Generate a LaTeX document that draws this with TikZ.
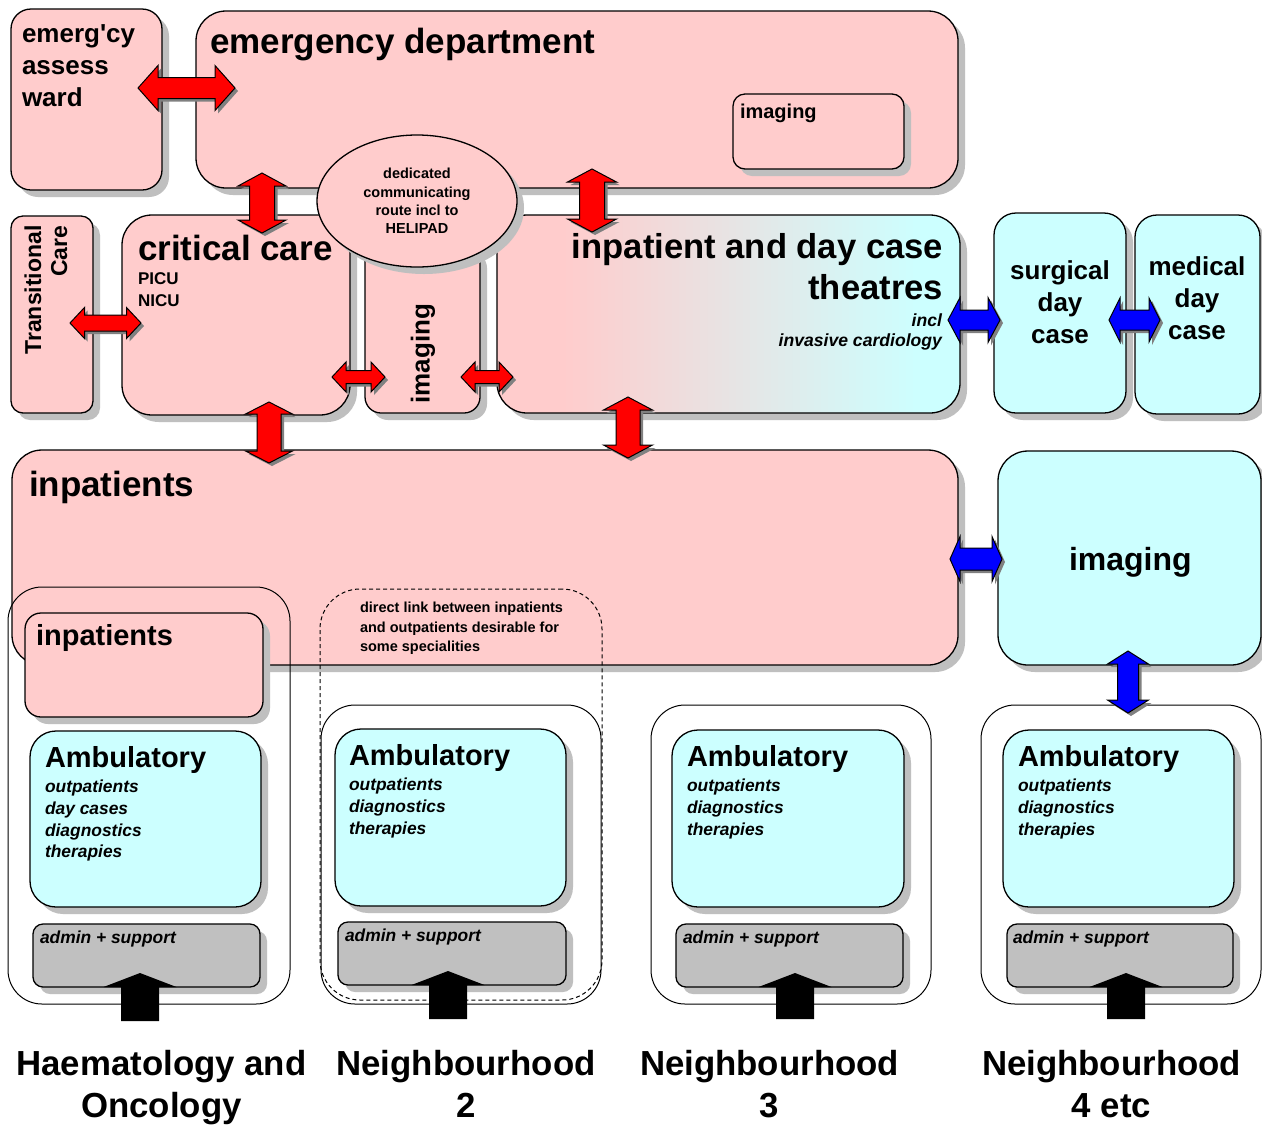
\documentclass[tikz,border=0pt]{standalone}
\usepackage{fontspec}
\setmainfont{Liberation Sans}
\usetikzlibrary{calc,shadows,shapes.geometric}

\definecolor{pinkfill}{RGB}{255,204,204}
\definecolor{cyanfill}{RGB}{204,255,255}
\definecolor{adminfill}{RGB}{192,192,192}
\definecolor{arrowred}{RGB}{255,0,0}
\definecolor{arrowblue}{RGB}{0,0,255}

% pink on the left fading through grey to cyan on the right
\pgfdeclarehorizontalshading{theatreshade}{100bp}{color(0bp)=(pinkfill); color(32bp)=(pinkfill); color(71bp)=(cyanfill); color(100bp)=(cyanfill)}

\newcommand\fsz[2]{\fontsize{#1}{#2}\selectfont}

% rounded area given by its corners (x1,y1) (x2,y2)
\newcommand\areanode[6][]{%
  \node[area,#1,minimum width={(#5-#3)*0.5pt},minimum height={(#6-#4)*0.5pt}] (#2) at ({(#3+#5)/2},{(#4+#6)/2}) {};}

% horizontal double block arrow: colour, left tip, right tip, head half-height, shaft half-height, head length
\newcommand\hdouble[6]{%
  \filldraw[blockarrow=#1] (#2) -- ($(#2)+(#6,-#4)$) -- ($(#2)+(#6,-#5)$) -- ($(#3)+(-#6,-#5)$) -- ($(#3)+(-#6,-#4)$) -- (#3)
    -- ($(#3)+(-#6,#4)$) -- ($(#3)+(-#6,#5)$) -- ($(#2)+(#6,#5)$) -- ($(#2)+(#6,#4)$) -- cycle;}

% vertical double block arrow: colour, top tip, bottom tip, head half-width, shaft half-width, head length
\newcommand\vdouble[6]{%
  \filldraw[blockarrow=#1] (#2) -- ($(#2)+(#4,#6)$) -- ($(#2)+(#5,#6)$) -- ($(#3)+(#5,-#6)$) -- ($(#3)+(#4,-#6)$) -- (#3)
    -- ($(#3)+(-#4,-#6)$) -- ($(#3)+(-#5,-#6)$) -- ($(#2)+(-#5,#6)$) -- ($(#2)+(-#4,#6)$) -- cycle;}

% single upward block arrow: foot, tip, head half-width, shaft half-width, head length
\newcommand\upblock[5]{%
  \fill[black] ($(#1)+(-#4,0)$) -- ($(#2)+(-#4,#5)$) -- ($(#2)+(-#3,#5)$) -- (#2) -- ($(#2)+(#3,#5)$) -- ($(#2)+(#4,#5)$) -- ($(#1)+(#4,0)$) -- cycle;}

\begin{document}
\begin{tikzpicture}[x=0.5pt,y=-0.5pt,
  area/.style={rectangle,draw=black,line width=0.65pt,inner sep=0pt,outer sep=0pt},
  shade box/.style={drop shadow={shadow xshift=3.5pt,shadow yshift=-3.5pt,opacity=1,fill=gray!50}},
  pinkbox/.style={area,fill=pinkfill,shade box},
  cyanbox/.style={area,fill=cyanfill,shade box},
  greybox/.style={area,fill=adminfill,shade box},
  frame/.style={area,line width=0.5pt},
  link frame/.style={frame,dash pattern=on 2pt off 1.5pt},
  blockarrow/.style={fill=#1,draw=black,line width=0.5pt,line join=miter,
    preaction={fill=gray,transform canvas={xshift=1.5pt,yshift=-1.5pt}}},
  lbl/.style={inner sep=0pt,outer sep=0pt},
  title/.style={lbl,anchor=base west,font={\fsz{#1}{#1}\bfseries}},
  sublist/.style={lbl,anchor=north west,align=left,font={\fsz{8.7}{10.85}\bfseries\itshape}},
  admintext/.style={lbl,anchor=base west,font={\fsz{8.7}{10}\bfseries\itshape}},
  placename/.style={lbl,anchor=north,align=center,font={\fsz{17.4}{21}\bfseries}}]

\useasboundingbox (0,0) rectangle (1262,1126);
\fill[white] (0,0) rectangle (1262,1126);

% emergency floor
\areanode[pinkbox,rounded corners=10pt]{ward}{11}{9}{162}{190}
\areanode[pinkbox,rounded corners=15pt]{ed}{196}{11}{958}{188}
\areanode[pinkbox,rounded corners=6pt]{edimg}{733}{94}{904}{169}

% critical care, imaging and theatres
\areanode[pinkbox,rounded corners=6pt]{trans}{11}{216}{93}{413}
\areanode[pinkbox,rounded corners=15pt]{crit}{122}{215}{350}{415}
\areanode[pinkbox,rounded corners=8pt]{imgmid}{365}{245}{480}{413}
\areanode[area,shade,shading=theatreshade,shade box,rounded corners=15pt]{theat}{497}{215}{960}{413}
\areanode[cyanbox,rounded corners=11pt]{surg}{994}{213}{1126}{413}
\areanode[cyanbox,rounded corners=11pt]{med}{1135}{215}{1260}{414}
\node[ellipse,draw=black,line width=0.65pt,fill=pinkfill,shade box,inner sep=0pt,
      minimum width=100pt,minimum height=66pt,align=center,font={\fsz{7.25}{9.15}\bfseries}]
      (route) at (417,201) {dedicated\\communicating\\route incl to\\HELIPAD};

% inpatients and imaging
\areanode[pinkbox,rounded corners=15pt]{inpat}{12}{450}{958}{665}
\areanode[cyanbox,rounded corners=15pt]{img3}{998}{451}{1261}{665}

% haematology and oncology
\areanode[frame,rounded corners=17pt]{haem}{8}{587}{290}{1004}
\areanode[pinkbox,rounded corners=8pt]{inp2}{25}{613}{263}{717}
\areanode[cyanbox,rounded corners=13pt]{amb1}{30}{731}{261}{907}
\areanode[greybox,rounded corners=5pt]{adm1}{33}{924}{260}{987}

% neighbourhood 2 with the dashed link to inpatients
\areanode[link frame,rounded corners=20pt]{link}{320}{589}{602}{1000}
\areanode[frame,rounded corners=17pt]{nb2}{321}{705}{601}{1004}
\areanode[cyanbox,rounded corners=13pt]{amb2}{335}{729}{566}{906}
\areanode[greybox,rounded corners=5pt]{adm2}{338}{922}{566}{985}

% neighbourhood 3
\areanode[frame,rounded corners=17pt]{nb3}{651}{705}{931}{1004}
\areanode[cyanbox,rounded corners=13pt]{amb3}{672}{730}{904}{907}
\areanode[greybox,rounded corners=5pt]{adm3}{676}{924}{903}{987}

% neighbourhood 4
\areanode[frame,rounded corners=17pt]{nb4}{981}{705}{1261}{1004}
\areanode[cyanbox,rounded corners=13pt]{amb4}{1003}{730}{1234}{907}
\areanode[greybox,rounded corners=5pt]{adm4}{1007}{924}{1233}{987}

% labels
\node[lbl,anchor=north west,align=left,font={\fsz{13}{16}\bfseries}] (wardlbl) at (22,25) {emerg\textquotesingle cy\\assess\\ward};
\node[title=17.5] (edlbl) at (210,53) {emergency department};
\node[title=10] (edimglbl) at (740,118) {imaging};
\node[title=17.5] (critlbl) at (138,260) {critical care};
\node[lbl,anchor=north west,align=left,font={\fsz{8.5}{11}\bfseries}] (critsub) at (138,273) {PICU\\NICU};
\node[lbl,rotate=90,align=right,font={\fsz{11.5}{13}\bfseries}] (translbl) at (46,290) {Transitional\\Care};
\node[lbl,rotate=90,font={\fsz{13}{15}\bfseries}] (imgmidlbl) at (423,353.5) {imaging};
\node[lbl,anchor=north east,align=right,font={\fsz{17.3}{20.5}\bfseries}] (theatlbl) at (943,233) {inpatient and day case\\theatres};
\node[lbl,anchor=north east,align=right,font={\fsz{8.8}{10}\bfseries\itshape}] (theatsub) at (942,314) {incl\\invasive cardiology};
\node[lbl,anchor=north,align=center,font={\fsz{13}{16}\bfseries}] (surglbl) at (1060,261) {surgical\\day\\case};
\node[lbl,anchor=north,align=center,font={\fsz{13}{16}\bfseries}] (medlbl) at (1197,257) {medical\\day\\case};
\node[title=17.5] (inpatlbl) at (29,496) {inpatients};
\node[title=16] (img3lbl) at (1069,570) {imaging};
\node[title=14.5] (inp2lbl) at (36,645) {inpatients};
\node[lbl,anchor=north west,align=left,font={\fsz{7.25}{9.75}\bfseries}] (linklbl) at (360,602) {direct link between inpatients\\and outpatients desirable for\\some specialities};

\node[title=14.5] (amb1lbl) at (45,767.5) {Ambulatory};
\node[sublist] (amb1sub) at (45,780) {outpatients\\day cases\\diagnostics\\therapies};
\node[admintext] (adm1lbl) at (40,943) {admin + support};

\node[title=14.5] (amb2lbl) at (349,765.5) {Ambulatory};
\node[sublist] (amb2sub) at (349,778) {outpatients\\diagnostics\\therapies};
\node[admintext] (adm2lbl) at (345,941) {admin + support};

\node[title=14.5] (amb3lbl) at (687,766.5) {Ambulatory};
\node[sublist] (amb3sub) at (687,779) {outpatients\\diagnostics\\therapies};
\node[admintext] (adm3lbl) at (683,943) {admin + support};

\node[title=14.5] (amb4lbl) at (1018,766.5) {Ambulatory};
\node[sublist] (amb4sub) at (1018,779) {outpatients\\diagnostics\\therapies};
\node[admintext] (adm4lbl) at (1013,943) {admin + support};

\node[placename] (haemlbl) at (161.5,1050) {Haematology and\\Oncology};
\node[placename] (nb2lbl) at (466,1050) {Neighbourhood\\2};
\node[placename] (nb3lbl) at (769.5,1050) {Neighbourhood\\3};
\node[placename] (nb4lbl) at (1111.5,1050) {Neighbourhood\\4 etc};

% arrow ends
\coordinate (wardR) at ($(ward.east)+(-24,-11.5)$);
\coordinate (edL)   at ($(ed.west)+(39,-11.5)$);
\coordinate (transR) at ($(trans.east)+(-23,8.5)$);
\coordinate (critL)  at ($(crit.west)+(19,8)$);
\coordinate (critR)  at ($(crit.east)+(-18,62)$);
\coordinate (imgL)   at ($(imgmid.west)+(20,48)$);
\coordinate (imgR)   at ($(imgmid.east)+(-19,48)$);
\coordinate (theatL) at ($(theat.west)+(16,63)$);
\coordinate (edB1)   at ($(ed.south west)+(66,-15)$);
\coordinate (critT)  at ($(crit.north)+(26,18)$);
\coordinate (edB2)   at ($(ed.south)+(15,-19)$);
\coordinate (theatT) at ($(theat.north)+(-136.5,17)$);
\coordinate (critB)  at ($(crit.south)+(33,-13)$);
\coordinate (inpT1)  at ($(inpat.north)+(-216,13)$);
\coordinate (theatB) at ($(theat.south)+(-100.5,-16)$);
\coordinate (inpT2)  at ($(inpat.north)+(143,8)$);
\coordinate (theatR) at ($(theat.east)+(-12,6)$);
\coordinate (surgL)  at ($(surg.west)+(6,7)$);
\coordinate (surgR)  at ($(surg.east)+(-17,7)$);
\coordinate (medL)   at ($(med.west)+(25,5.5)$);
\coordinate (inpR)   at ($(inpat.east)+(-8,1.5)$);
\coordinate (img3L)  at ($(img3.west)+(4,1)$);
\coordinate (img3B)  at ($(img3.south)+(-1.5,-14)$);
\coordinate (nb4T)   at ($(nb4.north)+(7,8)$);
\coordinate (foot1) at (140,1021);
\coordinate (foot2) at (448,1019);
\coordinate (foot3) at (795,1019);
\coordinate (foot4) at (1126,1019);
\coordinate (tip1) at ($(adm1.south)+(-6.5,-14)$);
\coordinate (tip2) at ($(adm2.south)+(-4,-14)$);
\coordinate (tip3) at ($(adm3.south)+(5.5,-14)$);
\coordinate (tip4) at ($(adm4.south)+(6,-14)$);

% connections
\hdouble{arrowred}{wardR}{edL}{22.5}{10.5}{20}
\hdouble{arrowred}{transR}{critL}{15.5}{8}{14.5}
\hdouble{arrowred}{critR}{imgL}{15}{6.5}{14}
\hdouble{arrowred}{imgR}{theatL}{15}{6.5}{14}
\vdouble{arrowred}{edB1}{critT}{24}{12.5}{13}
\vdouble{arrowred}{edB2}{theatT}{24.5}{12.5}{13}
\vdouble{arrowred}{critB}{inpT1}{23.5}{12}{12}
\vdouble{arrowred}{theatB}{inpT2}{24.5}{12}{13}
\hdouble{arrowblue}{theatR}{surgL}{22.5}{10}{12}
\hdouble{arrowblue}{surgR}{medL}{22}{10}{11}
\hdouble{arrowblue}{inpR}{img3L}{22.5}{11}{10}
\vdouble{arrowblue}{img3B}{nb4T}{20.5}{10.5}{13}

\upblock{foot1}{tip1}{36.5}{19}{14}
\upblock{foot2}{tip2}{36.5}{19}{14}
\upblock{foot3}{tip3}{36.5}{19}{14}
\upblock{foot4}{tip4}{36.5}{19}{14}
\end{tikzpicture}
\end{document}
